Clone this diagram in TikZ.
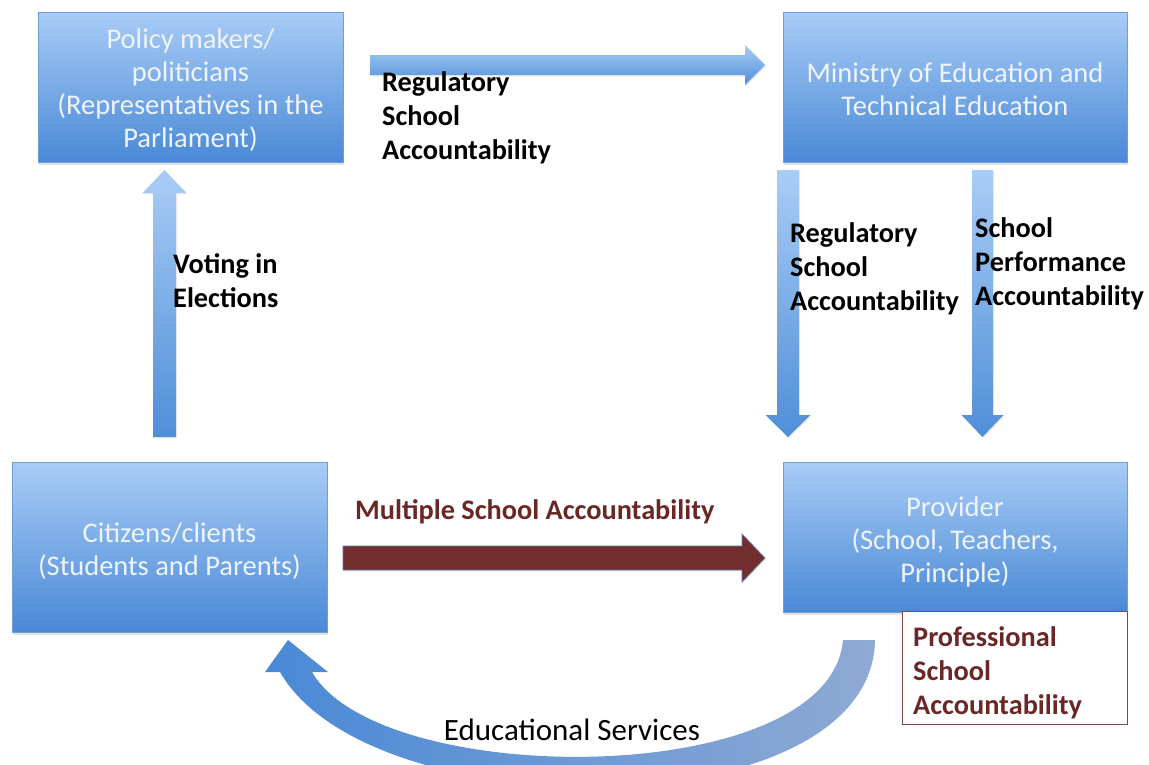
\documentclass[tikz,border=0pt]{standalone}
\usepackage{fontspec}
\setmainfont{Carlito}
\usetikzlibrary{shadows,calc}
\definecolor{boxtop}{HTML}{A8CCF6}
\definecolor{boxbot}{HTML}{4A89D6}
\definecolor{boxline}{HTML}{6E9DD8}
\definecolor{boxtext}{HTML}{EEF4FC}
\definecolor{arrtop}{HTML}{A9CDF6}
\definecolor{arrbot}{HTML}{4F8ED8}
\definecolor{mroon}{HTML}{722E2C}
\definecolor{mroonedge}{HTML}{5E7DB0}
\definecolor{labred}{HTML}{6B2626}
\definecolor{curveL}{HTML}{4A89D6}
\definecolor{curveR}{HTML}{8FA9D4}
\begin{document}
\begin{tikzpicture}[x=1pt,y=-1pt,
  box/.style={rectangle, draw=boxline, line width=0.5pt, top color=boxtop, bottom color=boxbot,
    inner sep=0pt,
    drop shadow={opacity=0.22, shadow xshift=1pt, shadow yshift=-2.5pt}},
  boxtxt/.style={text=boxtext, align=center, inner sep=0pt,
    font=\fontsize{28.5}{33}\selectfont},
  lbl/.style={anchor=north west, align=left, inner sep=0pt, font=\fontsize{28.3}{34}\selectfont\bfseries},
  blockarr/.style={draw=none, top color=arrtop, bottom color=arrbot,
    drop shadow={opacity=0.13, shadow xshift=1pt, shadow yshift=-1.5pt}}
]
\useasboundingbox (0,0) rectangle (1149,764);
\fill[white] (0,0) rectangle (1149,764);
\clip (0,0) rectangle (1149,764);

% boxes
\node[box, minimum width=305pt, minimum height=150pt] (pol) at (190.5,87) {};
\node[boxtxt] (polt) at ($(pol.center)+(0,3)$)
  {Policy makers/\\politicians\\(Representatives in the\\Parliament)};
\node[box, minimum width=344pt, minimum height=150pt] (min) at (955,87) {};
\node[boxtxt] (mint) at ($(min.center)+(0,2)$)
  {Ministry of Education and\\Technical Education};
\node[box, minimum width=315pt, minimum height=170pt] (cit) at (169.5,547) {};
\node[boxtxt] (citt) at ($(cit.center)+(0,4.5)$)
  {Citizens/clients\\(Students and Parents)};
\node[box, minimum width=344pt, minimum height=150pt] (pro) at (955,537) {};
\node[boxtxt] (prot) at ($(pro.center)+(0,4.5)$)
  {Provider\\(School, Teachers,\\Principle)};
\node[draw=labred!85, line width=0.8pt, fill=white, minimum width=225pt, minimum height=113pt,
  inner sep=0pt] (prof) at (1014.5,667.5) {};
\node[lbl, text=labred] (proflbl) at (913,626) {Professional\\School\\Accountability};

% voting arrow (citizens -> policy makers)
\coordinate (v0) at (164.5,437);
\coordinate (v1) at (164.5,170);
\shade[blockarr] ($(v0)+(-11.5,0)$) -- ($(v1)+(-11.5,23)$) -- ($(v1)+(-22,23)$) -- (v1)
  -- ($(v1)+(22,23)$) -- ($(v1)+(11.5,23)$) -- ($(v0)+(11.5,0)$) -- cycle;
\node[lbl] (votlbl) at (173,253) {Voting in\\Elections};

% top horizontal arrow (policy makers -> ministry)
\coordinate (h0) at (370,65);
\coordinate (h1) at (765,65);
\shade[blockarr] ($(h0)+(0,-10)$) -- ($(h1)+(-20,-10)$) -- ($(h1)+(-20,-20)$) -- (h1)
  -- ($(h1)+(-20,20)$) -- ($(h1)+(-20,10)$) -- ($(h0)+(0,10)$) -- cycle;
\node[lbl] (toplbl) at (382,71) {Regulatory\\School\\Accountability};

% down arrow 1 (ministry -> provider)
\coordinate (a0) at (788,170);
\coordinate (a1) at (788,437);
\shade[blockarr] ($(a0)+(-11,0)$) -- ($(a1)+(-11,-22)$) -- ($(a1)+(-22.5,-22)$) -- (a1)
  -- ($(a1)+(22.5,-22)$) -- ($(a1)+(11,-22)$) -- ($(a0)+(11,0)$) -- cycle;
\node[lbl] (d1lbl) at (790,222) {Regulatory\\School\\Accountability};

% down arrow 2 (ministry -> provider)
\coordinate (b0) at (982.5,170);
\coordinate (b1) at (982.5,437);
\shade[blockarr] ($(b0)+(-10.5,0)$) -- ($(b1)+(-10.5,-22)$) -- ($(b1)+(-21,-22)$) -- (b1)
  -- ($(b1)+(21,-22)$) -- ($(b1)+(10.5,-22)$) -- ($(b0)+(10.5,0)$) -- cycle;
\node[lbl] (d2lbl) at (975,217) {School\\Performance\\Accountability};

% maroon arrow (citizens -> provider)
\coordinate (m0) at (343,558);
\coordinate (m1) at (765,558);
\fill[mroon, draw=mroonedge, line width=0.7pt,
  drop shadow={opacity=0.15, shadow xshift=1pt, shadow yshift=-1.5pt}]
  ($(m0)+(0,-12)$) -- ($(m1)+(-23,-12)$) -- ($(m1)+(-23,-24)$) -- (m1)
  -- ($(m1)+(-23,24)$) -- ($(m1)+(-23,12)$) -- ($(m0)+(0,12)$) -- cycle;
\node[lbl, text=labred, anchor=base west] (multlbl) at (355,519) {Multiple School Accountability};

% curved arrow (provider -> citizens)
\coordinate (c0) at (875,640);
\coordinate (c1) at (843,640);
\coordinate (ctip) at (288,640);
\shade[left color=curveL, right color=curveR]
  (c0) .. controls (872,830) and (370,830) .. (280,672) -- (265,672) -- (ctip)
  -- (328,672) -- (312,672) .. controls (380,790) and (830,790) .. (c1) -- cycle;
\node[anchor=base, inner sep=0pt, font=\fontsize{31}{36}\selectfont] (edu) at (572,740) {Educational Services};
\end{tikzpicture}
\end{document}
